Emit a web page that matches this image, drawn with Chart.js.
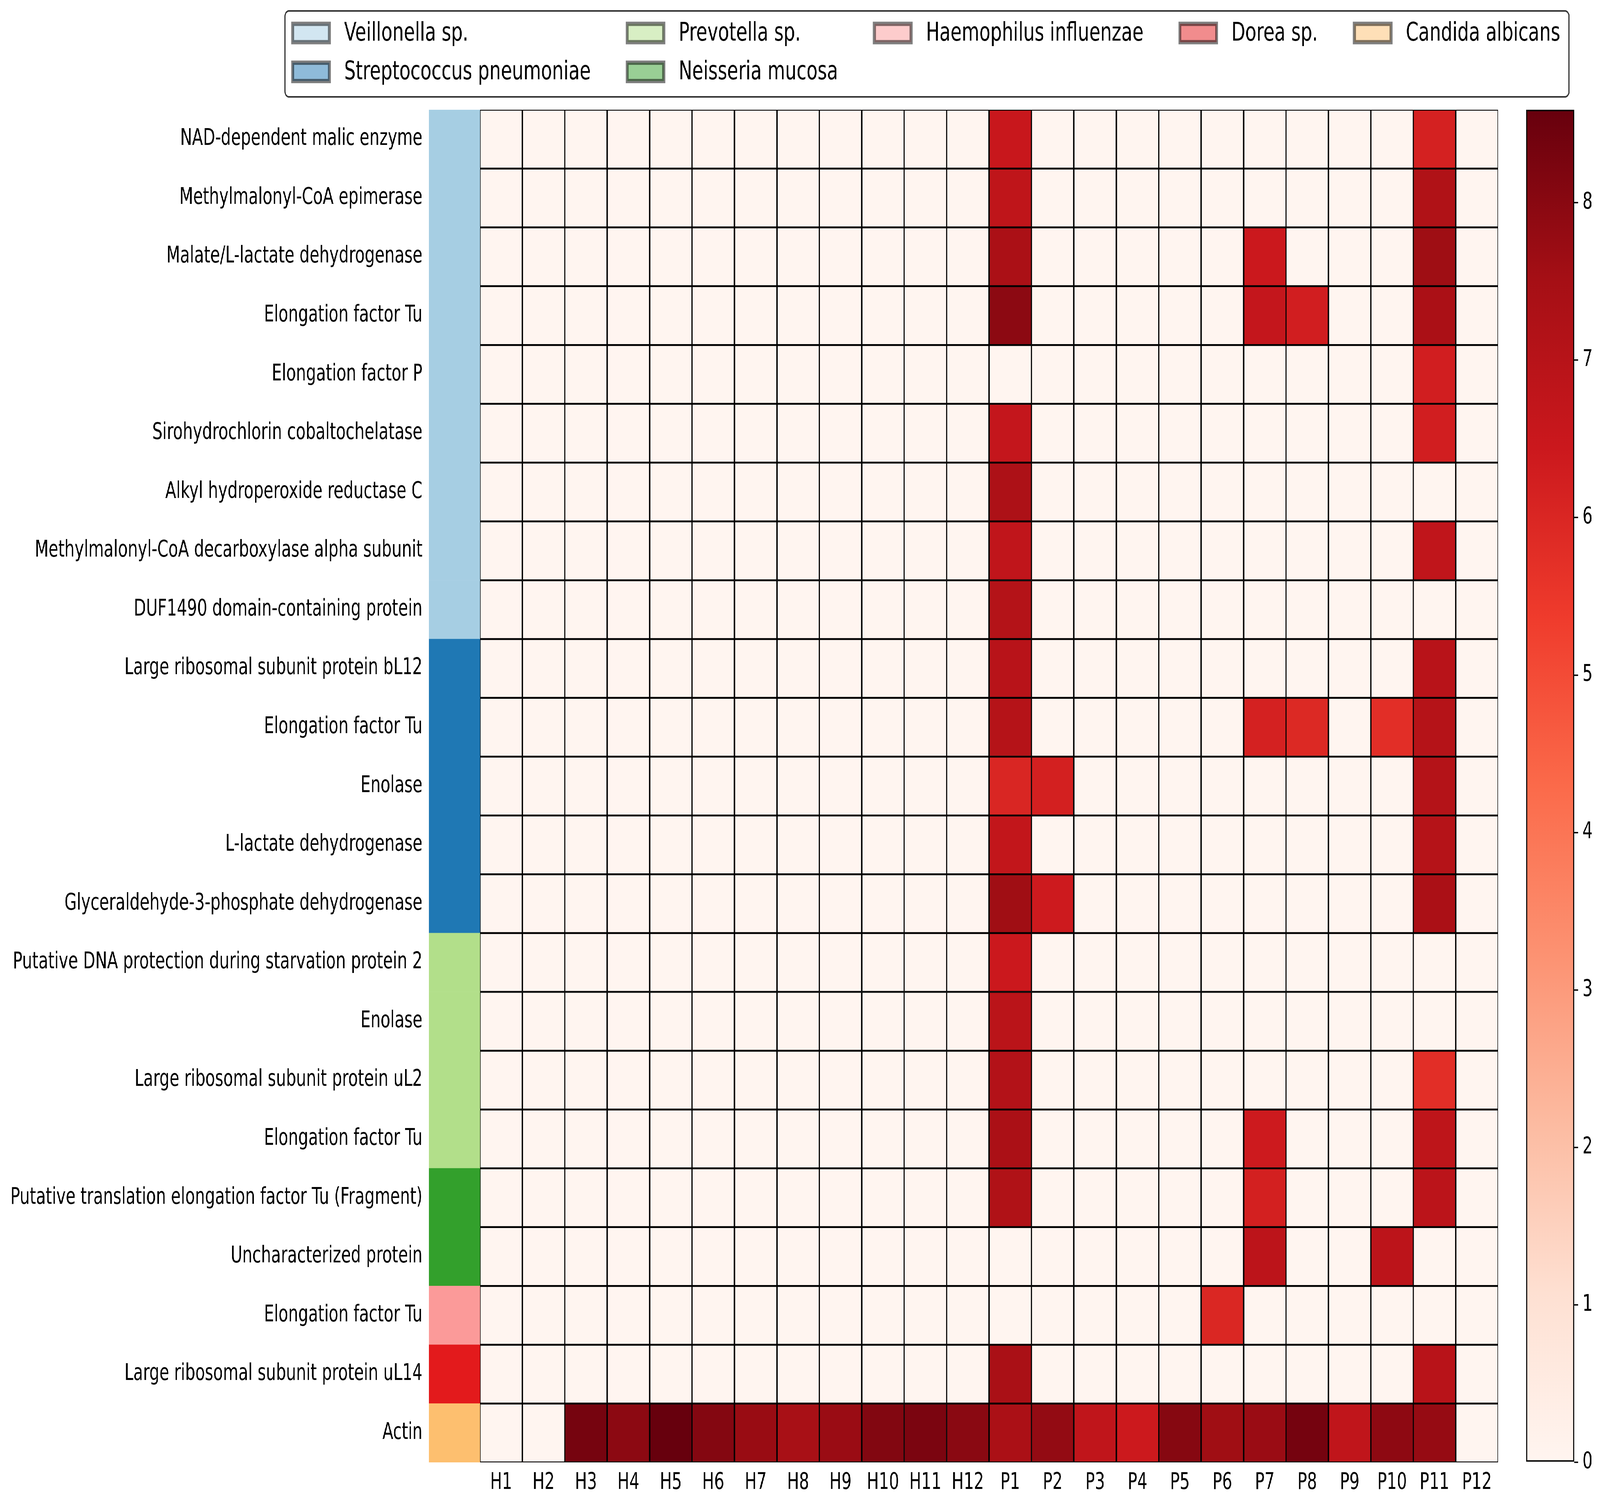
<!DOCTYPE html>
<html>
<head>
<meta charset="utf-8">
<script src="https://cdn.jsdelivr.net/npm/chart.js@4.4.1/dist/chart.umd.min.js"></script>
<style>
  html, body { margin: 0; padding: 0; background: #fff; overflow: hidden; }
  #frame { position: relative; overflow: hidden; }
  #stage { position: absolute; left: 0; top: 0; width: 5844px; height: 3848px; transform-origin: 0 0; }
  #heat { position: absolute; left: 0; top: 0; }
  #cbar { position: absolute; left: 5474px; top: 0; }
</style>
</head>
<body>
<div id="frame">
  <div id="stage">
    <canvas id="heat" width="5844" height="3848"></canvas>
    <canvas id="cbar" width="370" height="3848"></canvas>
  </div>
</div>
<script>
// ---------------- data ----------------
const columns = ['H1', 'H2', 'H3', 'H4', 'H5', 'H6', 'H7', 'H8', 'H9', 'H10', 'H11', 'H12',
                 'P1', 'P2', 'P3', 'P4', 'P5', 'P6', 'P7', 'P8', 'P9', 'P10', 'P11', 'P12'];

const proteins = [
    'NAD-dependent malic enzyme',
    'Methylmalonyl-CoA epimerase',
    'Malate/L-lactate dehydrogenase',
    'Elongation factor Tu',
    'Elongation factor P',
    'Sirohydrochlorin cobaltochelatase',
    'Alkyl hydroperoxide reductase C',
    'Methylmalonyl-CoA decarboxylase alpha subunit',
    'DUF1490 domain-containing protein',
    'Large ribosomal subunit protein bL12',
    'Elongation factor Tu',
    'Enolase',
    'L-lactate dehydrogenase',
    'Glyceraldehyde-3-phosphate dehydrogenase',
    'Putative DNA protection during starvation protein 2',
    'Enolase',
    'Large ribosomal subunit protein uL2',
    'Elongation factor Tu',
    'Putative translation elongation factor Tu (Fragment)',
    'Uncharacterized protein',
    'Elongation factor Tu',
    'Large ribosomal subunit protein uL14',
    'Actin'
];

const speciesNames = ['Veillonella sp.', 'Streptococcus pneumoniae', 'Prevotella sp.', 'Neisseria mucosa',
                      'Haemophilus influenzae', 'Dorea sp.', 'Candida albicans'];
const speciesColors = ['#a6cee3', '#1f78b4', '#b2df8a', '#33a02c', '#fb9a99', '#e31a1c', '#fdbf6f'];
// species index of each protein row
const rowSpecies = [0, 0, 0, 0, 0, 0, 0, 0, 0, 1, 1, 1, 1, 1, 2, 2, 2, 2, 3, 3, 4, 5, 6];

// one row per protein, one value per sample (H1..H12, P1..P12)
const heatValues = [
    [0, 0, 0, 0, 0, 0, 0, 0, 0, 0, 0, 0, 6.53, 0, 0, 0, 0, 0, 0, 0, 0, 0, 6.17, 0],
    [0, 0, 0, 0, 0, 0, 0, 0, 0, 0, 0, 0, 6.78, 0, 0, 0, 0, 0, 0, 0, 0, 0, 7.20, 0],
    [0, 0, 0, 0, 0, 0, 0, 0, 0, 0, 0, 0, 7.35, 0, 0, 0, 0, 0, 6.44, 0, 0, 0, 7.62, 0],
    [0, 0, 0, 0, 0, 0, 0, 0, 0, 0, 0, 0, 7.95, 0, 0, 0, 0, 0, 6.64, 6.26, 0, 0, 7.35, 0],
    [0, 0, 0, 0, 0, 0, 0, 0, 0, 0, 0, 0, 0, 0, 0, 0, 0, 0, 0, 0, 0, 0, 6.26, 0],
    [0, 0, 0, 0, 0, 0, 0, 0, 0, 0, 0, 0, 6.64, 0, 0, 0, 0, 0, 0, 0, 0, 0, 6.26, 0],
    [0, 0, 0, 0, 0, 0, 0, 0, 0, 0, 0, 0, 7.29, 0, 0, 0, 0, 0, 0, 0, 0, 0, 0, 0],
    [0, 0, 0, 0, 0, 0, 0, 0, 0, 0, 0, 0, 6.75, 0, 0, 0, 0, 0, 0, 0, 0, 0, 6.75, 0],
    [0, 0, 0, 0, 0, 0, 0, 0, 0, 0, 0, 0, 7.09, 0, 0, 0, 0, 0, 0, 0, 0, 0, 0, 0],
    [0, 0, 0, 0, 0, 0, 0, 0, 0, 0, 0, 0, 6.98, 0, 0, 0, 0, 0, 0, 0, 0, 0, 6.98, 0],
    [0, 0, 0, 0, 0, 0, 0, 0, 0, 0, 0, 0, 7.06, 0, 0, 0, 0, 0, 6.17, 5.93, 0, 5.76, 7.06, 0],
    [0, 0, 0, 0, 0, 0, 0, 0, 0, 0, 0, 0, 6.02, 6.20, 0, 0, 0, 0, 0, 0, 0, 0, 7.09, 0],
    [0, 0, 0, 0, 0, 0, 0, 0, 0, 0, 0, 0, 6.70, 0, 0, 0, 0, 0, 0, 0, 0, 0, 7.06, 0],
    [0, 0, 0, 0, 0, 0, 0, 0, 0, 0, 0, 0, 7.60, 6.38, 0, 0, 0, 0, 0, 0, 0, 0, 7.35, 0],
    [0, 0, 0, 0, 0, 0, 0, 0, 0, 0, 0, 0, 6.44, 0, 0, 0, 0, 0, 0, 0, 0, 0, 0, 0],
    [0, 0, 0, 0, 0, 0, 0, 0, 0, 0, 0, 0, 6.92, 0, 0, 0, 0, 0, 0, 0, 0, 0, 0, 0],
    [0, 0, 0, 0, 0, 0, 0, 0, 0, 0, 0, 0, 7.12, 0, 0, 0, 0, 0, 0, 0, 0, 0, 5.76, 0],
    [0, 0, 0, 0, 0, 0, 0, 0, 0, 0, 0, 0, 7.35, 0, 0, 0, 0, 0, 6.38, 0, 0, 0, 6.81, 0],
    [0, 0, 0, 0, 0, 0, 0, 0, 0, 0, 0, 0, 7.20, 0, 0, 0, 0, 0, 6.20, 0, 0, 0, 6.89, 0],
    [0, 0, 0, 0, 0, 0, 0, 0, 0, 0, 0, 0, 0, 0, 0, 0, 0, 0, 6.87, 0, 0, 6.87, 0, 0],
    [0, 0, 0, 0, 0, 0, 0, 0, 0, 0, 0, 0, 0, 0, 0, 0, 0, 5.99, 0, 0, 0, 0, 0, 0],
    [0, 0, 0, 0, 0, 0, 0, 0, 0, 0, 0, 0, 7.37, 0, 0, 0, 0, 0, 0, 0, 0, 0, 6.98, 0],
    [0, 0, 8.33, 7.95, 8.59, 8.09, 7.72, 7.43, 7.70, 8.12, 8.24, 7.98,
     7.35, 7.83, 6.75, 6.41, 8.05, 7.60, 7.70, 8.35, 6.75, 7.91, 7.77, 0]
];

const colorbarTicks = [0, 1, 2, 3, 4, 5, 6, 7, 8];

// ---------------- colours ----------------
// matplotlib "Reds"
const redsStops = ['#fff5f0', '#fee0d2', '#fcbba1', '#fc9272', '#fb6a4a', '#ef3b2c', '#cb181d', '#a50f15', '#67000d'];

function hexToRgb(h) {
    return [parseInt(h.slice(1, 3), 16), parseInt(h.slice(3, 5), 16), parseInt(h.slice(5, 7), 16)];
}

function reds(t) {
    t = Math.max(0, Math.min(1, t));
    const p = t * (redsStops.length - 1);
    const i = Math.min(redsStops.length - 2, Math.floor(p));
    const f = p - i;
    const a = hexToRgb(redsStops[i]), b = hexToRgb(redsStops[i + 1]);
    const c = a.map((v, k) => Math.round(v + (b[k] - v) * f));
    return `rgb(${c[0]}, ${c[1]}, ${c[2]})`;
}

function withAlpha(h, alpha) {
    const [r, g, b] = hexToRgb(h);
    return `rgba(${r}, ${g}, ${b}, ${alpha})`;
}

const vmax = Math.max(...heatValues.flat());

Chart.defaults.font.family = '"DejaVu Sans", sans-serif';
Chart.defaults.color = '#000';

// ---------------- layout ----------------
const PAGE_W = 5844, PAGE_H = 3848;
const STRIP = 1.2;          // width of the species strip, in cell units
const LABEL_SIZE = 58;
const LEGEND_SIZE = 66;

// the drawing is laid out on a 5844x3848 page; the browser may report a
// narrower viewport, so map the page onto whatever window we actually get
const sx = Math.min(1, window.innerWidth / PAGE_W);
const sy = Math.min(1, window.innerHeight / PAGE_H);
const frame = document.getElementById('frame');
frame.style.width = `${PAGE_W * sx}px`;
frame.style.height = `${PAGE_H * sy}px`;
document.getElementById('stage').style.transform = `scale(${sx}, ${sy})`;

// ==========================================
// SPECIES LEGEND (framed, 5 columns, filled column by column)
// ==========================================
const speciesLegend = {
    id: 'speciesLegend',
    afterDraw(chart) {
        const c = chart.ctx;
        const ncol = 5;
        const n = speciesNames.length;
        const nrow = Math.ceil(n / ncol);
        const nLarge = n % ncol || ncol;

        const cols = [];
        let k = 0;
        for (let ci = 0; ci < ncol; ci++) {
            const h = ci < nLarge ? nrow : nrow - 1;
            const idx = [];
            for (let m = 0; m < h; m++) idx.push(k + m);
            cols.push(idx);
            k += h;
        }

        c.save();
        c.font = `${LEGEND_SIZE}px "DejaVu Sans"`;
        c.textBaseline = 'middle';
        c.textAlign = 'left';

        const boxLeft = 1041, boxTop = 28, boxBottom = 248;
        const handleW = 134, handleH = 47, handlePad = 54, colSpace = 133;
        const rowY = [84.5, 184];

        let x = boxLeft + 28;
        cols.forEach(idx => {
            let maxW = 0;
            idx.forEach((s, r) => {
                const cy = rowY[r];
                c.fillStyle = withAlpha(speciesColors[s], 0.5);
                c.fillRect(x, cy - handleH / 2, handleW, handleH);
                c.strokeStyle = 'rgba(0, 0, 0, 0.5)';
                c.lineWidth = 11;
                c.strokeRect(x, cy - handleH / 2, handleW, handleH);
                c.fillStyle = '#000';
                c.fillText(speciesNames[s], x + handleW + handlePad, cy + 2);
                maxW = Math.max(maxW, c.measureText(speciesNames[s]).width);
            });
            x += handleW + handlePad + maxW + colSpace;
        });
        const boxRight = x - colSpace + 32;

        c.beginPath();
        c.roundRect(boxLeft, boxTop, boxRight - boxLeft, boxBottom - boxTop, 14);
        c.strokeStyle = '#333';
        c.lineWidth = 4;
        c.stroke();
        c.restore();
    }
};

// ==========================================
// HEATMAP (one floating-bar dataset per sample column)
// ==========================================
const heatDatasets = [{
    label: 'species',
    data: proteins.map(() => [-STRIP, 0]),
    backgroundColor: rowSpecies.map(s => speciesColors[s]),
    borderWidth: 0
}].concat(columns.map((col, j) => ({
    label: col,
    data: proteins.map(() => [j, j + 1]),
    backgroundColor: proteins.map((_, r) => reds(heatValues[r][j] / vmax)),
    borderColor: '#000',
    borderWidth: 2.7,
    borderSkipped: false
})));

heatDatasets.forEach(ds => {
    ds.grouped = false;
    ds.barPercentage = 1;
    ds.categoryPercentage = 1;
});

new Chart(document.getElementById('heat'), {
    type: 'bar',
    data: { labels: proteins, datasets: heatDatasets },
    options: {
        indexAxis: 'y',
        responsive: false,
        animation: false,
        devicePixelRatio: 1,
        layout: { padding: { left: 0, top: 281, right: 372, bottom: 0 } },
        plugins: { legend: { display: false }, tooltip: { enabled: false } },
        scales: {
            x: {
                type: 'linear',
                min: -STRIP,
                max: columns.length,
                grid: { display: false, drawTicks: false },
                border: { display: false },
                afterBuildTicks: s => { s.ticks = columns.map((_, j) => ({ value: j + 0.5 })); },
                afterFit: s => { s.height = 104; },
                ticks: {
                    autoSkip: false,
                    maxRotation: 0,
                    padding: 18,
                    font: { size: LABEL_SIZE },
                    callback: v => columns[Math.floor(v)]
                }
            },
            y: {
                grid: { display: false, drawTicks: false },
                border: { display: false },
                afterFit: s => { s.width = 1567; },
                ticks: { autoSkip: false, padding: 24, font: { size: LABEL_SIZE } }
            }
        }
    },
    plugins: [speciesLegend]
});

// ==========================================
// COLORBAR
// ==========================================
new Chart(document.getElementById('cbar'), {
    type: 'bar',
    data: {
        labels: [''],
        datasets: [{
            data: [[0, vmax]],
            backgroundColor: (context) => {
                const area = context.chart.chartArea;
                if (!area) return redsStops[0];
                const g = context.chart.ctx.createLinearGradient(0, area.bottom, 0, area.top);
                redsStops.forEach((col, i) => g.addColorStop(i / (redsStops.length - 1), col));
                return g;
            },
            borderColor: '#000',
            borderWidth: 4,
            borderSkipped: false,
            barPercentage: 1,
            categoryPercentage: 1
        }]
    },
    options: {
        responsive: false,
        animation: false,
        devicePixelRatio: 1,
        layout: { padding: { left: 100, top: 281, right: 0, bottom: 104 } },
        plugins: { legend: { display: false }, tooltip: { enabled: false } },
        scales: {
            x: { display: false },
            y: {
                position: 'right',
                min: 0,
                max: vmax,
                afterFit: s => { s.width = 94; },
                afterBuildTicks: s => { s.ticks = colorbarTicks.map(v => ({ value: v })); },
                grid: { drawOnChartArea: false, drawTicks: true, tickLength: 14, color: '#000', lineWidth: 3.5 },
                border: { display: false },
                ticks: { padding: 16, font: { size: LABEL_SIZE } }
            }
        }
    }
});
</script>
</body>
</html>
